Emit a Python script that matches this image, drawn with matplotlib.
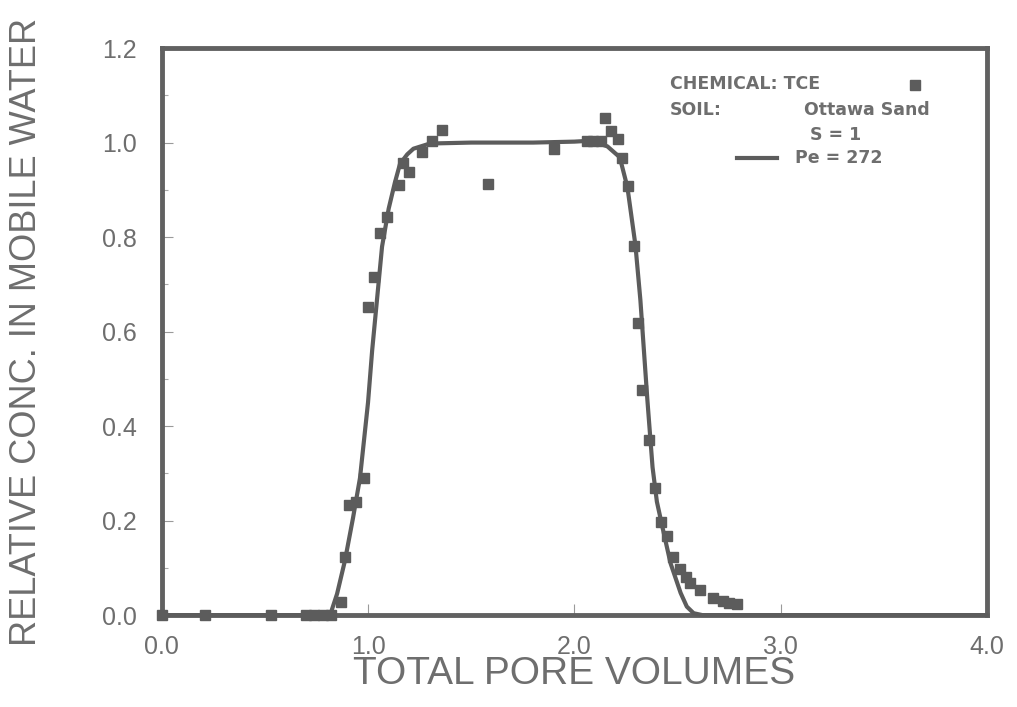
import matplotlib
matplotlib.use("Agg")
import matplotlib.pyplot as plt
from matplotlib.ticker import MultipleLocator

plt.rcParams['font.family'] = ['Liberation Sans', 'DejaVu Sans']

# measured TCE breakthrough points (total pore volumes, relative conc.)
pore_obs = [0.00, 0.21, 0.53, 0.70, 0.74, 0.78, 0.82, 0.87, 0.89, 0.91, 0.94,
            0.98, 1.00, 1.03, 1.06, 1.09, 1.15, 1.17, 1.20, 1.26, 1.31, 1.36,
            1.58, 1.90, 2.06, 2.09, 2.13, 2.15, 2.18, 2.21, 2.23, 2.26, 2.29,
            2.31, 2.33, 2.36, 2.39, 2.42, 2.45, 2.48, 2.51, 2.54, 2.56, 2.61,
            2.67, 2.72, 2.75, 2.79]
conc_obs = [0.000, 0.000, 0.000, 0.000, 0.000, 0.000, 0.000, 0.028, 0.123, 0.233, 0.239,
            0.290, 0.652, 0.715, 0.808, 0.842, 0.910, 0.957, 0.938, 0.980, 1.003, 1.026,
            0.912, 0.986, 1.003, 1.003, 1.003, 1.052, 1.024, 1.007, 0.967, 0.908, 0.781,
            0.618, 0.476, 0.370, 0.268, 0.197, 0.167, 0.123, 0.097, 0.080, 0.068, 0.053,
            0.036, 0.030, 0.025, 0.023]

# model curve, Pe = 272
pore_fit = [0.00, 0.78, 0.82, 0.85, 0.888, 0.927, 0.961, 1.00, 1.02, 1.044, 1.068,
            1.10, 1.13, 1.155, 1.19, 1.22, 1.30, 1.50, 1.80, 2.00, 2.08, 2.16,
            2.22, 2.257, 2.296, 2.32, 2.354, 2.379, 2.40, 2.427, 2.466, 2.515,
            2.545, 2.578, 2.62, 4.00]
conc_fit = [0.000, 0.000, 0.005, 0.045, 0.115, 0.205, 0.290, 0.450, 0.560, 0.670, 0.780,
            0.860, 0.915, 0.955, 0.975, 0.987, 0.998, 1.000, 1.000, 1.002, 1.004, 0.992,
            0.969, 0.906, 0.783, 0.667, 0.455, 0.313, 0.240, 0.186, 0.110, 0.047,
            0.018, 0.004, 0.000, 0.000]

gray = '#5c5c5c'
txt = '#6e6e6e'

fig = plt.figure(figsize=(10.17, 7.07), dpi=100)
ax = fig.add_axes([0.159, 0.130, 0.8115, 0.802])

ax.plot(pore_fit, conc_fit, color=gray, lw=3, solid_capstyle='round', clip_on=False, zorder=3)
ax.plot(pore_obs, conc_obs, ls='none', marker='s', ms=7.5, color=gray, mec=gray,
        clip_on=False, zorder=4)

ax.set_xlim(0, 4.0)
ax.set_ylim(0, 1.2)
ax.xaxis.set_major_locator(MultipleLocator(1.0))
ax.yaxis.set_major_locator(MultipleLocator(0.2))
ax.yaxis.set_minor_locator(MultipleLocator(0.1))
ax.xaxis.set_major_formatter(matplotlib.ticker.FormatStrFormatter('%.1f'))
ax.yaxis.set_major_formatter(matplotlib.ticker.FormatStrFormatter('%.1f'))
ax.tick_params(which='major', direction='in', length=8, width=0.8, color='#9a9a9a',
               labelsize=18, labelcolor=txt)
ax.tick_params(which='minor', direction='in', length=4, width=0.8, color='#aaaaaa')
ax.tick_params(axis='x', pad=14)
ax.tick_params(axis='y', pad=18)
ax.tick_params(top=False, right=False)

for s in ax.spines.values():
    s.set_color('#616161')
    s.set_linewidth(3.5)

ax.set_xlabel('TOTAL PORE VOLUMES', fontsize=28, color=txt)
ax.set_ylabel('RELATIVE CONC. IN MOBILE WATER', fontsize=26, color=txt)
ax.xaxis.set_label_coords(0.5, -0.073)
ax.yaxis.set_label_coords(-0.143, 0.5)

# in-plot key
kw = dict(transform=ax.transAxes, fontsize=12.5, fontweight='bold', color=txt,
          va='center', family='DejaVu Sans')
ax.text(0.616, 0.937, 'CHEMICAL: TCE', ha='left', **kw)
ax.plot([0.913], [0.935], marker='s', ms=6.5, color=gray, transform=ax.transAxes)
ax.text(0.616, 0.891, 'SOIL:', ha='left', **kw)
ax.text(0.931, 0.891, 'Ottawa Sand', ha='right', **kw)
ax.text(0.816, 0.847, 'S = 1', ha='center', **kw)
ax.plot([0.697, 0.745], [0.806, 0.806], color=gray, lw=3, transform=ax.transAxes)
ax.text(0.767, 0.806, 'Pe = 272', ha='left', **kw)

fig.savefig('out.png', dpi=100)
